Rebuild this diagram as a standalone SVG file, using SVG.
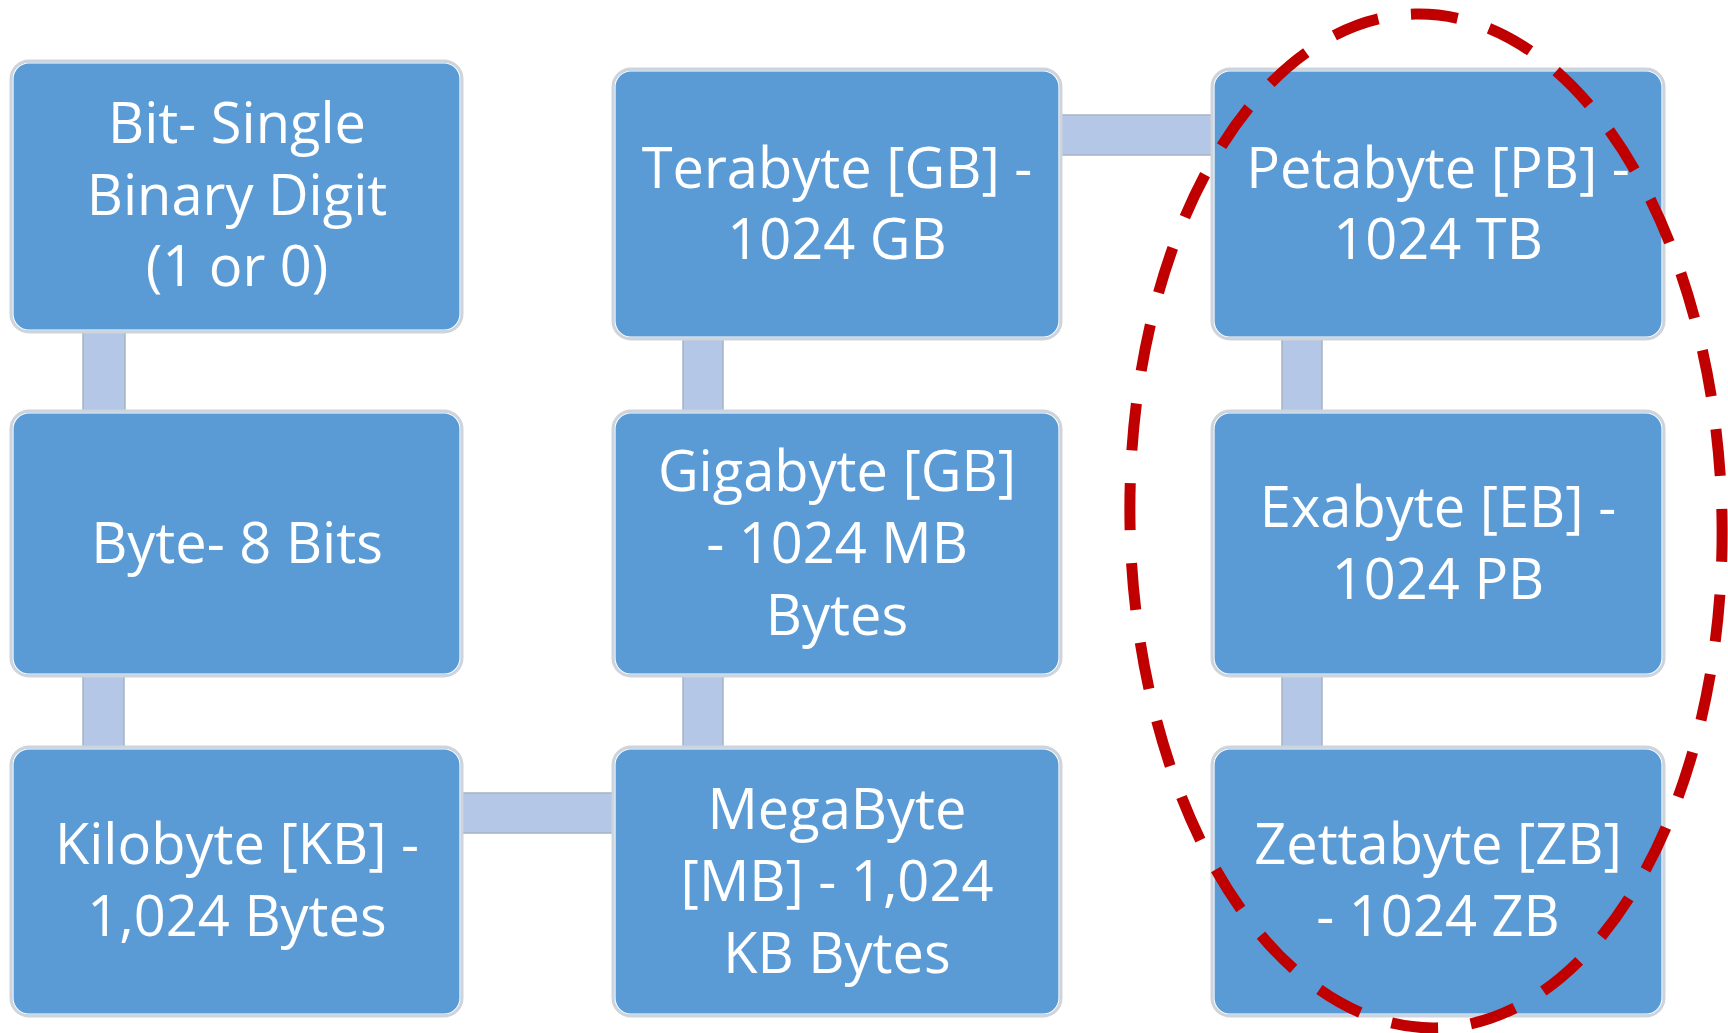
<svg xmlns="http://www.w3.org/2000/svg" width="1728" height="1033" viewBox="0 0 1728 1033">
  <style>
    .box { fill: #5b9bd5; stroke: #cfd4da; stroke-width: 3; }
    .box-inner { fill: none; stroke: #ffffff; stroke-width: 1.2; }
    .link { fill: #b4c7e7; stroke: #a7b3c4; stroke-width: 1.5; }
    .label { font-family: "Open Sans", "Noto Sans", sans-serif; font-size: 56px; fill: #ffffff; text-anchor: middle; }
    .ring { fill: none; stroke: #c00000; stroke-width: 11; stroke-dasharray: 47 33; }
  </style>
  <rect width="1728" height="1033" fill="#ffffff"/>

  <!-- connectors between unit boxes -->
  <g id="connectors">
    <rect class="link" x="83" y="328" width="42" height="86"/>
    <rect class="link" x="83" y="674" width="41" height="76"/>
    <rect class="link" x="460" y="793" width="156" height="40"/>
    <rect class="link" x="683" y="673" width="40" height="77"/>
    <rect class="link" x="683" y="336" width="40" height="78"/>
    <rect class="link" x="1058" y="115" width="157" height="40"/>
    <rect class="link" x="1282" y="336" width="40" height="78"/>
    <rect class="link" x="1282" y="673" width="40" height="77"/>
  </g>

  <g id="bit">
    <rect class="box" x="11" y="61" width="451" height="271" rx="18"/>
    <rect class="box-inner" x="13" y="63" width="447" height="267" rx="16"/>
    <text class="label" x="237" y="143">Bit- Single</text>
    <text class="label" x="237" y="215">Binary Digit</text>
    <text class="label" x="237" y="286">(1 or 0)</text>
  </g>

  <g id="byte">
    <rect class="box" x="11" y="411" width="451" height="265" rx="18"/>
    <rect class="box-inner" x="13" y="413" width="447" height="261" rx="16"/>
    <text class="label" x="237" y="563">Byte- 8 Bits</text>
  </g>

  <g id="kilobyte">
    <rect class="box" x="11" y="747" width="451" height="269" rx="18"/>
    <rect class="box-inner" x="13" y="749" width="447" height="265" rx="16"/>
    <text class="label" x="237" y="864">Kilobyte [KB] -</text>
    <text class="label" x="237" y="936">1,024 Bytes</text>
  </g>

  <g id="megabyte">
    <rect class="box" x="613" y="747" width="448" height="269" rx="18"/>
    <rect class="box-inner" x="615" y="749" width="444" height="265" rx="16"/>
    <text class="label" x="837" y="829">MegaByte</text>
    <text class="label" x="837" y="901">[MB] - 1,024</text>
    <text class="label" x="837" y="973">KB Bytes</text>
  </g>

  <g id="gigabyte">
    <rect class="box" x="613" y="411" width="448" height="265" rx="18"/>
    <rect class="box-inner" x="615" y="413" width="444" height="261" rx="16"/>
    <text class="label" x="837" y="491">Gigabyte [GB]</text>
    <text class="label" x="837" y="563">- 1024 MB</text>
    <text class="label" x="837" y="635">Bytes</text>
  </g>

  <g id="terabyte">
    <rect class="box" x="613" y="69" width="448" height="270" rx="18"/>
    <rect class="box-inner" x="615" y="71" width="444" height="266" rx="16"/>
    <text class="label" x="837" y="188">Terabyte [GB] -</text>
    <text class="label" x="837" y="259">1024 GB</text>
  </g>

  <g id="petabyte">
    <rect class="box" x="1212" y="69" width="452" height="270" rx="18"/>
    <rect class="box-inner" x="1214" y="71" width="448" height="266" rx="16"/>
    <text class="label" x="1438" y="188">Petabyte [PB] -</text>
    <text class="label" x="1438" y="259">1024 TB</text>
  </g>

  <g id="exabyte">
    <rect class="box" x="1212" y="411" width="452" height="265" rx="18"/>
    <rect class="box-inner" x="1214" y="413" width="448" height="261" rx="16"/>
    <text class="label" x="1438" y="527">Exabyte [EB] -</text>
    <text class="label" x="1438" y="599">1024 PB</text>
  </g>

  <g id="zettabyte">
    <rect class="box" x="1212" y="747" width="452" height="269" rx="18"/>
    <rect class="box-inner" x="1214" y="749" width="448" height="265" rx="16"/>
    <text class="label" x="1438" y="864">Zettabyte [ZB]</text>
    <text class="label" x="1438" y="936">- 1024 ZB</text>
  </g>

  <!-- dashed highlight round the right-hand column -->
  <g id="highlight">
    <ellipse class="ring" cx="1426" cy="521" rx="296" ry="507" transform="rotate(-1.2 1426 521)"/>
  </g>
</svg>
